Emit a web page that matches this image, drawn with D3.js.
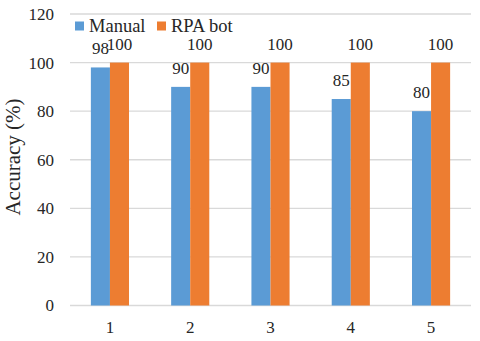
<!DOCTYPE html>
<html><head><meta charset="utf-8">
<script src="https://cdn.jsdelivr.net/npm/d3@7"></script>
<style>body{margin:0;background:#fff}svg{display:block}text{font-family:"Liberation Serif","Times New Roman","DejaVu Serif",serif;fill:#262626}</style>
</head><body>
<svg id="c" width="480" height="341"></svg>
<script>
const categories = ["1","2","3","4","5"];
const seriesNames = ["Manual","RPA bot"];
const manual = [98,90,90,85,80];
const rpaBot = [100,100,100,100,100];
const yTicks = [0,20,40,60,80,100,120];
const colors = ["#5B9BD5","#ED7D31"];

const svg = d3.select("#c");
const x0 = 70, x1 = 471, yTop = 14, yBot = 305.5;
const x = d3.scaleBand().domain(categories).range([x0,x1]).paddingInner(0.525).paddingOuter(0.26);
const xs = d3.scaleBand().domain(seriesNames).range([0,x.bandwidth()]);
const y = d3.scaleLinear().domain([0,120]).range([yBot,yTop]);

// gridlines
svg.append("g").selectAll("line").data(yTicks).join("line")
  .attr("x1",x0).attr("x2",x1).attr("y1",d=>y(d)).attr("y2",d=>y(d))
  .attr("stroke","#D9D9D9").attr("stroke-width",1.3);

// y axis labels
const ya = svg.append("g").attr("transform",`translate(${x0},0)`)
  .call(d3.axisLeft(y).tickValues(yTicks).tickSize(0).tickPadding(16));
ya.select(".domain").remove();
ya.selectAll("text").attr("font-size",17).attr("fill","#262626");

// x axis labels
const xa = svg.append("g").attr("transform",`translate(0,${yBot})`)
  .call(d3.axisBottom(x).tickSize(0).tickPadding(15));
xa.select(".domain").remove();
xa.selectAll("text").attr("font-size",17).attr("fill","#262626");

const rows = categories.map((c,i)=>({c, vals:[manual[i], rpaBot[i]]}));
const g = svg.append("g").selectAll("g").data(rows).join("g")
  .attr("transform",d=>`translate(${x(d.c)},0)`);
g.selectAll("rect").data(d=>d.vals.map((v,j)=>({v,s:seriesNames[j],j}))).join("rect")
  .attr("x",d=>xs(d.s)).attr("width",xs.bandwidth())
  .attr("y",d=>y(d.v)).attr("height",d=>yBot-y(d.v))
  .attr("fill",d=>colors[d.j]);
g.selectAll("text").data(d=>d.vals.map((v,j)=>({v,s:seriesNames[j],j}))).join("text")
  .attr("x",d=>xs(d.s)+xs.bandwidth()/2).attr("y",d=>y(d.v)-13)
  .attr("text-anchor","middle").attr("font-size",17).text(d=>d.v);

// legend
const leg = svg.append("g");
const legX = [75,157];
seriesNames.forEach((s,i)=>{
  leg.append("rect").attr("x",legX[i]).attr("y",21.5).attr("width",9).attr("height",9).attr("fill",colors[i]);
  leg.append("text").attr("x",legX[i]+14).attr("y",31.5).attr("font-size",18.5).text(s);
});

// y title
svg.append("text").attr("transform","translate(19.5,157) rotate(-90)")
  .attr("text-anchor","middle").attr("font-size",21).text("Accuracy (%)");
</script>
</body></html>
